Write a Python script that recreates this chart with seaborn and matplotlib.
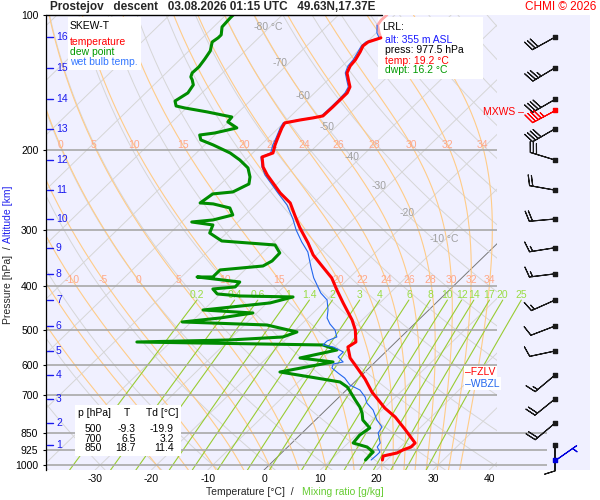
import numpy as np
import pandas as pd
import matplotlib
matplotlib.use("Agg")
import matplotlib.pyplot as plt
from matplotlib.patches import Rectangle
from matplotlib.ticker import NullLocator
import seaborn as sns

# ---- sounding values (pressure hPa / deg C)
start_p = [100.0, 102.6, 105.3, 109.6, 112.4]
start_t = [-61.4, -61.5, -61.2, -59.5, -58.3]

temp_p = [112.4, 114.8, 117.1, 120.8, 125.8, 129.8, 134.5, 140.9, 144.5, 149.0,
          154.5, 160.1, 167.6, 169.3, 171.1, 173.7, 178.2, 187.6, 194.4, 202.6,
          206.8, 217.6, 226.7, 236.2, 248.6, 261.6, 278.2, 297.3, 321.1, 341.4,
          363.0, 384.0, 408.3, 436.4, 476.1, 501.1, 532.9, 546.7, 578.3, 608.7,
          644.0, 688.3, 747.0, 782.2, 831.8, 893.5, 912.0, 926.1, 940.4, 955.0, 974.7]
temp_t = [-58.3, -59.8, -60.0, -59.4, -58.8, -58.6, -57.9, -55.9, -54.8, -54.2,
          -54.2, -54.2, -54.3, -55.7, -57.6, -59.8, -59.4, -58.3, -57.5, -56.4,
          -57.6, -55.6, -53.4, -50.9, -47.8, -44.2, -41.2, -37.9, -33.7, -30.6,
          -26.7, -23.1, -20.0, -16.5, -11.8, -9.4, -7.1, -7.6, -5.2, -2.1,
          1.3, 4.9, 10.1, 13.6, 17.5, 21.9, 21.9, 21.0, 20.5, 18.6, 19.2]

wetb_p = [105.3, 109.6, 112.4, 114.8, 117.1, 120.8, 125.8, 129.8, 134.5, 140.9,
          144.5, 149.0, 154.5, 160.1, 167.6, 169.3, 171.1, 173.7, 178.2, 187.6,
          194.4, 202.6, 206.8, 217.6, 226.7, 236.2, 248.6,
          264.3, 283.9, 300.4, 319.5, 336.2, 363.0, 384.0, 402.1, 414.7, 429.8,
          452.4, 471.3, 486.0, 501.1, 519.4, 530.2, 541.1, 546.7, 560.8, 575.4,
          590.3, 596.4, 608.7, 624.5, 640.7, 664.0, 681.3, 706.1, 728.1, 754.7,
          794.3, 823.3, 848.9, 893.5, 912.0, 935.7, 950.1, 974.7]
wetb_t = [-61.3, -59.9, -58.6, -60.2, -60.3, -59.8, -59.2, -59.0, -58.2, -56.2,
          -55.1, -54.6, -54.5, -54.5, -54.6, -56.1, -58.0, -60.1, -59.7, -58.6,
          -57.9, -56.8, -57.8, -55.8, -53.8, -51.3, -48.2,
          -44.4, -40.8, -38.2, -35.0, -32.1, -28.8, -26.3, -23.9, -22.3, -19.9,
          -17.9, -16.6, -15.0, -13.0, -11.4, -12.4, -12.4, -10.2, -7.5, -7.5,
          -5.7, -7.1, -6.6, -4.6, -2.5, -0.3, 2.4, 4.6, 6.0, 8.4,
          10.9, 13.1, 13.5, 15.7, 15.9, 17.3, 17.3, 17.2]

dewp_p = [100.0, 101.5, 106.3, 110.7, 112.4, 114.8, 120.2, 125.2, 130.4, 134.5,
          137.3, 139.4, 143.0, 149.0, 155.3, 159.3, 160.9, 164.2, 168.5, 172.8,
          178.2, 182.9, 184.8, 189.5, 194.4, 202.6, 210.0, 218.7, 229.0, 237.4,
          247.3, 249.8, 261.6, 262.9, 268.4, 278.2, 285.4, 288.4, 292.8, 305.1,
          317.8, 324.4, 337.9, 352.0, 361.2, 368.6, 382.1, 382.1, 392.0, 402.1,
          406.3, 416.8, 421.1, 423.2, 436.4, 452.4, 459.4, 471.3, 481.0, 488.5,
          506.3, 519.4, 527.4, 532.9, 541.1, 555.2, 578.3, 590.3, 621.3, 637.4,
          653.9, 670.9, 684.8, 717.0, 743.2, 766.4, 794.3, 827.5, 857.7, 893.5,
          912.0, 935.7, 950.1, 974.7]
dewp_t = [-88.7, -88.7, -88.5, -87.2, -87.2, -87.5, -86.2, -85.7, -85.3, -85.4,
          -84.9, -84.1, -83.0, -82.5, -83.3, -82.2, -80.3, -75.6, -70.3, -70.1,
          -67.4, -70.4, -72.7, -71.6, -68.5, -64.0, -61.0, -58.1, -56.1, -55.0,
          -56.4, -59.6, -60.2, -57.7, -54.0, -52.2, -54.8, -58.2, -53.9, -53.0,
          -49.4, -39.2, -36.9, -36.8, -37.5, -44.4, -44.4, -47.2, -38.7, -38.6,
          -42.2, -40.5, -36.1, -26.5, -29.5, -40.1, -30.7, -35.6, -41.6, -26.0,
          -19.4, -21.0, -29.8, -46.0, -12.4, -9.0, -14.1, -7.5, -15.1, -8.8,
          -2.6, -0.4, 0.8, 3.4, 5.5, 7.0, 8.4, 11.1, 10.6, 10.9,
          14.1, 16.1, 16.1, 16.2]

# winds every km (direction deg, speed kt)
km_levels = list(range(1, 17))
km_p = [903, 807, 713, 631, 558, 491, 430, 376, 329, 284, 245, 210, 179, 154, 131, 112]
wind_dir = [180, 230, 231, 230, 258, 249, 246, 263, 261, 265, 280, 287, 240, 240, 239, 241]
wind_spd = [10, 20, 20, 15, 10, 10, 15, 15, 15, 20, 20, 30, 40, 40, 35, 30]
mxws_p, mxws_dir, mxws_spd = 163, 242, 45
sfc_p, sfc_dir, sfc_spd = 975, 55, 5

table_p = [500, 700, 850]
table_t = [-9.3, 6.5, 18.7]
table_td = [-19.9, 3.2, 11.4]
lrl_alt, lrl_press, lrl_temp, lrl_dwpt = 355, 977.5, 19.2, 16.2
fzlv_p, wbzl_p = 621, 660

# diagram furniture
isobars = [200, 300, 400, 500, 600, 700, 850, 925, 1000]
ytick_p = [100] + isobars
temp_ticks = [-30, -20, -10, 0, 10, 20, 30, 40]
isotherm_labels = [-80, -70, -60, -50, -40, -30, -20, -10]
isotherm_label_p = [106.3, 127.8, 151.3, 177.3, 206.8, 239.8, 275.4, 314.6]
moist_thw = [-20, -15, -10, -5, 0, 5, 10, 15, 20, 22, 24, 26, 28, 30, 32, 34]
moist_lab_top = [0, 5, 10, 15, 20, 22, 24, 26, 28, 30, 32, 34]
moist_lab_low = [-10, -5, 0, 5, 10, 15, 20, 22, 24, 26, 28, 30, 32, 34]
mix_ratios = [0.2, 0.4, 0.6, 1, 1.4, 2, 3, 4, 6, 8, 10, 12, 14, 17, 20, 25]

P_BOT = 1025.9
SKEW = 35.75
X_LEFT, X_RIGHT = -38.72, 57.90
X_EDGE = 41.39          # right end of the skew-T diagram
X_LOW_ISO = 50.27       # low isobars run into the wind column
X_WIND = 51.69


def skew_x(t, p):
    return np.asarray(t, float) + SKEW * np.log(P_BOT / np.asarray(p, float))


def at(xp, yp):
    # pixel position -> axes fraction
    return (xp - 46) / 544, (470 - yp) / 455


def moist_lines(thw, plev):
    Rd, cp, Lv, eps = 287.04, 1005.7, 2.501e6, 0.622

    def slope(T, p):
        es = 6.112 * np.exp(17.67 * (T - 273.15) / (T - 29.65))
        rs = eps * es / (p - es)
        return (Rd * T + Lv * rs) / (p * (cp + Lv ** 2 * rs * eps / (Rd * T ** 2)))

    T = np.asarray(thw, float) + 273.15
    out = [T.copy()]
    for p0, p1 in zip(plev[:-1], plev[1:]):
        h = p1 - p0
        k1 = slope(T, p0)
        k2 = slope(T + 0.5 * h * k1, p0 + 0.5 * h)
        k3 = slope(T + 0.5 * h * k2, p0 + 0.5 * h)
        k4 = slope(T + h * k3, p1)
        T = T + h * (k1 + 2 * k2 + 2 * k3 + k4) / 6
        out.append(T.copy())
    return np.array(out) - 273.15


sns.set_theme(style="ticks")
plt.rcParams["font.family"] = ["Liberation Sans", "DejaVu Sans"]
plt.rcParams["font.size"] = 7.5
plt.rcParams["axes.unicode_minus"] = False

fig = plt.figure(figsize=(6, 5), dpi=100)
fig.patch.set_facecolor("white")
ax = fig.add_axes([46 / 600, 30 / 500, 544 / 600, 455 / 500])
ax.set_facecolor("#f0f0ff")
ax.set_yscale("log")
ax.set_xlim(X_LEFT, X_RIGHT)
ax.set_ylim(P_BOT, 100)

clip = Rectangle((0, 0), (497 - 46) / 544, 1, transform=ax.transAxes)

pp = np.geomspace(100, P_BOT, 200)
# isotherms and dry adiabats
for t0 in range(-160, 60, 10):
    ln, = ax.plot(skew_x(t0, pp), pp, color="#777777" if t0 == 0 else "#d6d6d6",
                  lw=0.7, zorder=1)
    ln.set_clip_path(clip)
for th in range(-40, 260, 10):
    tt = (th + 273.15) * (pp / 1000.0) ** 0.2857 - 273.15
    ln, = ax.plot(skew_x(tt, pp), pp, color="#d6d6d6", lw=0.7, zorder=1)
    ln.set_clip_path(clip)

# moist adiabats
p_up = np.linspace(1000, 100, 361)
p_dn = np.linspace(1000, P_BOT, 6)
m_up = moist_lines(moist_thw, p_up)
m_dn = moist_lines(moist_thw, p_dn)
p_all = np.concatenate([p_dn[::-1], p_up[1:]])
for i, thw in enumerate(moist_thw):
    tt = np.concatenate([m_dn[::-1, i], m_up[1:, i]])
    xx = skew_x(tt, p_all)
    ln, = ax.plot(xx, p_all, color="#ffcc88", lw=0.8, zorder=1.5)
    ln.set_clip_path(clip)
    for row_p, labs in ((194.4, moist_lab_top), (388.6, moist_lab_low)):
        if thw in labs:
            xl = np.interp(np.log(row_p), np.log(p_all[::-1]), xx[::-1])
            ax.text(xl, row_p, f"{thw}", color="#ffa888", fontsize=7.5,
                    ha="center", va="center", zorder=3)

# mixing ratio lines
pm = np.geomspace(430, P_BOT, 60)
for r in mix_ratios:
    e = r * pm / (622.0 + r)
    L = np.log(e / 6.112)
    td = 243.5 * L / (17.67 - L)
    xx = skew_x(td, pm)
    ax.plot(xx, pm, color="#99cc33", lw=0.8, zorder=1.6)
    ax.text(xx[0], 419, f"{r:g}", color="#99dd44", fontsize=7.5,
            ha="center", va="center", zorder=3)

# isobars
ax.hlines([p for p in isobars if p < 800], X_LEFT, X_EDGE, color="#a8a8a8", lw=1.2, zorder=2)
ax.hlines([p for p in isobars if p > 800], X_LEFT, X_LOW_ISO, color="#a8a8a8", lw=1.2, zorder=2)

# isotherm labels
for t0, lp in zip(isotherm_labels, isotherm_label_p):
    xl = skew_x(t0, lp) - 0.25
    ax.text(xl, lp, f"{t0}", color="#a0a0a0", fontsize=7.5, ha="right", va="center", zorder=3)
    if t0 in (-80, -10):
        ax.text(xl, lp, " \u00b0C", color="#a0a0a0", fontsize=7.5, ha="left", va="center", zorder=3)

# profiles
sns.lineplot(x=skew_x(start_t, start_p), y=start_p, sort=False, estimator=None,
             color="#ffaaaa", linewidth=2.0, ax=ax, zorder=5)
sns.lineplot(x=skew_x(dewp_t, dewp_p), y=dewp_p, sort=False, estimator=None,
             color="#008c00", linewidth=2.2, ax=ax, zorder=5)
sns.lineplot(x=skew_x(temp_t, temp_p), y=temp_p, sort=False, estimator=None,
             color="#ff0000", linewidth=2.2, ax=ax, zorder=5.2)
sns.lineplot(x=skew_x(wetb_t, wetb_p), y=wetb_p, sort=False, estimator=None,
             color="#2266ee", linewidth=0.8, ax=ax, zorder=5.1)

# winds
wd = np.radians(wind_dir)
spd = np.asarray(wind_spd, float)
ax.barbs(np.full(len(km_p), X_WIND), km_p, -spd * np.sin(wd), -spd * np.cos(wd),
         length=6.1, linewidth=0.8, color="k", zorder=7, clip_on=False)
ax.scatter(np.full(len(km_p), X_WIND), km_p, marker="s", s=6, color="k", zorder=8)
md = np.radians(mxws_dir)
ax.barbs([X_WIND], [mxws_p], [-mxws_spd * np.sin(md)], [-mxws_spd * np.cos(md)],
         length=6.1, linewidth=0.8, color="red", zorder=7)
ax.scatter([X_WIND], [mxws_p], marker="s", s=6, color="red", zorder=8)
sd = np.radians(sfc_dir)
ax.barbs([X_WIND], [sfc_p], [-sfc_spd * np.sin(sd)], [-sfc_spd * np.cos(sd)],
         length=6.1, linewidth=0.8, color="#0000dd", zorder=7)
ax.scatter([X_WIND], [sfc_p], marker="s", s=6, color="#0000dd", zorder=8)
ax.text(*at(483, 112), "MXWS \u2013", transform=ax.transAxes, color="red",
        fontsize=7.5, ha="left", va="center", zorder=8)

# altitude marks
for km, kp in zip(km_levels, km_p):
    ax.plot([1 / 544, 7 / 544], [kp, kp], transform=ax.get_yaxis_transform(),
            color="#1a1aee", lw=1.0, zorder=6)
    ax.text(10 / 544, kp, f"{km}", transform=ax.get_yaxis_transform(),
            color="#1a1aee", fontsize=7.5, ha="left", va="center", zorder=6)

# boxes
def box(x0, y0, x1, y1):
    bx, by = at(x0, y1)
    ax.add_patch(Rectangle((bx, by), (x1 - x0) / 544, (y1 - y0) / 455,
                           transform=ax.transAxes, facecolor="white",
                           edgecolor="none", zorder=4))

def label(xp, yp, s, c="black", ha="left"):
    ax.text(*at(xp, yp), s, transform=ax.transAxes, color=c, fontsize=7.5,
            ha=ha, va="center", zorder=6)

box(68, 17, 141, 70)
label(70, 26, "SKEW-T")
label(70, 42, "temperature", "#ff0000")
label(70, 52, "dew point", "#009900")
label(70, 62, "wet bulb temp.", "#3377ff")

box(378, 17, 483, 79)
label(382, 27, "LRL:")
label(385, 40, f"alt: {lrl_alt} m ASL", "#1a1aff")
label(385, 50, f"press: {lrl_press} hPa")
label(385, 61, f"temp: {lrl_temp} \u00b0C", "#ff0000")
label(385, 70, f"dwpt: {lrl_dwpt} \u00b0C", "#009900")

box(75, 405, 181, 456)
label(78, 413, "p [hPa]")
label(127, 413, "T", ha="center")
label(146, 413, "Td [\u00b0C]")
for i, (tp, tt, td) in enumerate(zip(table_p, table_t, table_td)):
    yy = 429 + i * 9.5
    label(102, yy, f"{tp}", ha="right")
    label(136, yy, f"{tt}", ha="right")
    label(174, yy, f"{td}", ha="right")

for lp, s, c in ((fzlv_p, "\u2013FZLV", "red"), (wbzl_p, "\u2013WBZL", "#2266ee")):
    ax.text((465 - 46) / 544, lp, s, transform=ax.get_yaxis_transform(), color=c,
            fontsize=7.5, ha="left", va="center", zorder=6,
            bbox=dict(facecolor="white", edgecolor="none", pad=1.0))

# axes cosmetics
ax.set_xticks(temp_ticks)
ax.set_xticklabels([f"{t}" for t in temp_ticks])
ax.set_yticks(ytick_p)
ax.set_yticklabels([f"{p}" for p in ytick_p])
ax.yaxis.set_minor_locator(NullLocator())
ax.tick_params(axis="y", length=2.5, width=0.8, pad=3, labelsize=7.5, colors="black")
ax.tick_params(axis="x", length=0, pad=3, labelsize=7.5, colors="black")
ax.set_xlabel("")
ax.set_ylabel("")
for s in ("top", "right", "bottom"):
    ax.spines[s].set_visible(False)
ax.spines["left"].set_color("black")
ax.spines["left"].set_linewidth(0.9)
ax.plot([0, (382 - 46) / 544], [1, 1], transform=ax.transAxes, color="black",
        lw=1.0, clip_on=False, zorder=9)

fig.text(50 / 600, 1 - 7 / 500,
         "Prostejov   descent   03.08.2026 01:15 UTC   49.63N,17.37E",
         fontsize=8.5, fontweight="bold", ha="left", va="center")
fig.text(596 / 600, 1 - 7 / 500, "CHMI \u00a9 2026", color="red",
         fontsize=8.5, ha="right", va="center")
fig.text(294 / 600, 1 - 492 / 500, "Temperature [\u00b0C]  /", fontsize=7.5,
         ha="right", va="center")
fig.text(302 / 600, 1 - 492 / 500, "Mixing ratio [g/kg]", fontsize=7.5,
         color="#66cc33", ha="left", va="center")
fig.text(8 / 600, 1 - 246 / 500, "Pressure [hPa]  /", fontsize=7.5, rotation=90,
         ha="center", va="top")
fig.text(8 / 600, 1 - 243 / 500, "Altitude [km]", fontsize=7.5, rotation=90,
         color="#2222ee", ha="center", va="bottom")

fig.savefig("out.png", dpi=100)
